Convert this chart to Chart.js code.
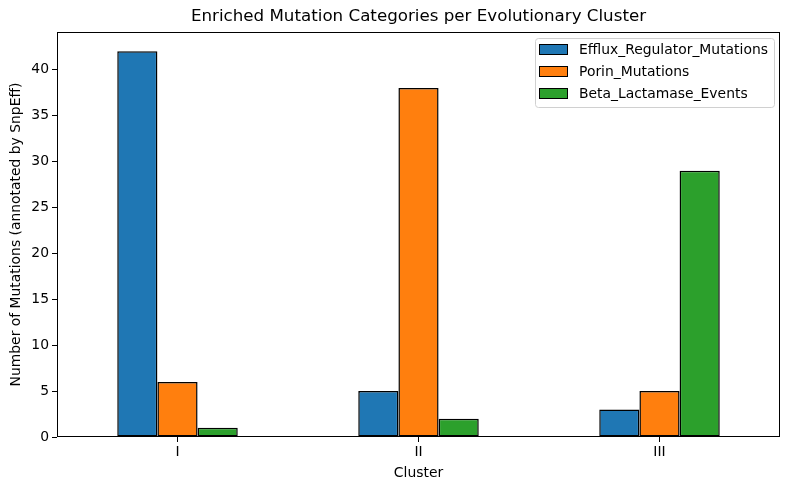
<!DOCTYPE html>
<html><head><meta charset="utf-8">
<script src="https://cdn.jsdelivr.net/npm/chart.js@4"></script>
<style>html,body{margin:0;padding:0;background:#fff}#wrap{width:790px;height:490px}</style>
</head><body><div id="wrap"><canvas id="c" width="790" height="490"></canvas></div>
<script>
const categories = ["I", "II", "III"];
const seriesNames = ["Efflux_Regulator_Mutations", "Porin_Mutations", "Beta_Lactamase_Events"];
const effluxValues = [42, 5, 3];
const porinValues = [6, 38, 5];
const betaValues = [1, 2, 29];
const colors = ["#1f77b4", "#ff7f0e", "#2ca02c"];
const titleText = "Enriched Mutation Categories per Evolutionary Cluster";
const xTitle = "Cluster";
const yTitle = "Number of Mutations (annotated by SnpEff)";
const FONT = "'DejaVu Sans', sans-serif";

const frame = {
  id: 'frame',
  afterDraw(chart) {
    const ctx = chart.ctx, a = chart.chartArea;
    ctx.save();
    ctx.strokeStyle = '#000'; ctx.lineWidth = 1;
    ctx.strokeRect(Math.round(a.left) + 0.5, Math.round(a.top) + 0.5, Math.round(a.right - a.left) - 1, Math.round(a.bottom - a.top) - 1);
    // title
    ctx.fillStyle = '#000';
    ctx.font = "16.7px " + FONT;
    ctx.textAlign = 'center'; ctx.textBaseline = 'middle';
    ctx.fillText(titleText, (a.left + a.right) / 2, 17);
    // legend
    const lx = 535, ly = 38, lw = 239, lh = 69;
    ctx.fillStyle = 'rgba(255,255,255,0.8)';
    ctx.strokeStyle = '#d0d0d0';
    ctx.beginPath();
    if (ctx.roundRect) ctx.roundRect(lx + 0.5, ly + 0.5, lw, lh, 3); else ctx.rect(lx + 0.5, ly + 0.5, lw, lh);
    ctx.fill(); ctx.stroke();
    ctx.font = "13.9px " + FONT;
    ctx.textAlign = 'left'; ctx.textBaseline = 'middle';
    chart.data.datasets.forEach((ds, i) => {
      const y = 50 + i * 22;
      ctx.fillStyle = ds.backgroundColor;
      ctx.fillRect(539.5, y - 5.5, 28, 10);
      ctx.strokeStyle = '#000';
      ctx.strokeRect(539.5, y - 5.5, 28, 10);
      ctx.fillStyle = '#000';
      ctx.fillText(ds.label, 579, y);
    });
    ctx.restore();
  }
};

new Chart(document.getElementById('c'), {
  type: 'bar',
  data: {
    labels: categories,
    datasets: [
      { label: seriesNames[0], data: effluxValues, backgroundColor: colors[0] },
      { label: seriesNames[1], data: porinValues, backgroundColor: colors[1] },
      { label: seriesNames[2], data: betaValues, backgroundColor: colors[2] }
    ].map(d => Object.assign(d, { borderColor: '#000', borderWidth: 1.5, borderSkipped: false, categoryPercentage: 0.5, barPercentage: 1.0 }))
  },
  options: {
    responsive: false,
    animation: false,
    layout: { padding: { top: 32, right: 10, left: 0, bottom: 0 } },
    plugins: { legend: { display: false }, title: { display: false }, tooltip: { enabled: false } },
    scales: {
      x: {
        grid: { offset: false, drawOnChartArea: false, drawTicks: true, tickLength: 5, tickColor: '#000' },
        border: { display: false },
        ticks: { color: '#000', font: { family: FONT, size: 13.9 }, padding: 2, maxRotation: 0 },
        title: { display: true, text: xTitle, color: '#000', font: { family: FONT, size: 13.9 }, padding: { top: 2, bottom: 8 } },
        afterFit(s) { s.height = 53; }
      },
      y: {
        min: 0, max: 44.1,
        grid: { drawOnChartArea: false, drawTicks: true, tickLength: 5, tickColor: '#000' },
        border: { display: false },
        ticks: { stepSize: 5, color: '#000', font: { family: FONT, size: 13.9 }, padding: 3 },
        afterBuildTicks(s) { s.ticks = s.ticks.filter(t => Math.abs(t.value % 5) < 1e-9); },
        title: { display: true, text: yTitle, color: '#000', font: { family: FONT, size: 13.9 }, padding: { top: 8, bottom: 4 } },
        afterFit(s) { s.width = 57; }
      }
    }
  },
  plugins: [frame]
});
</script></body></html>
